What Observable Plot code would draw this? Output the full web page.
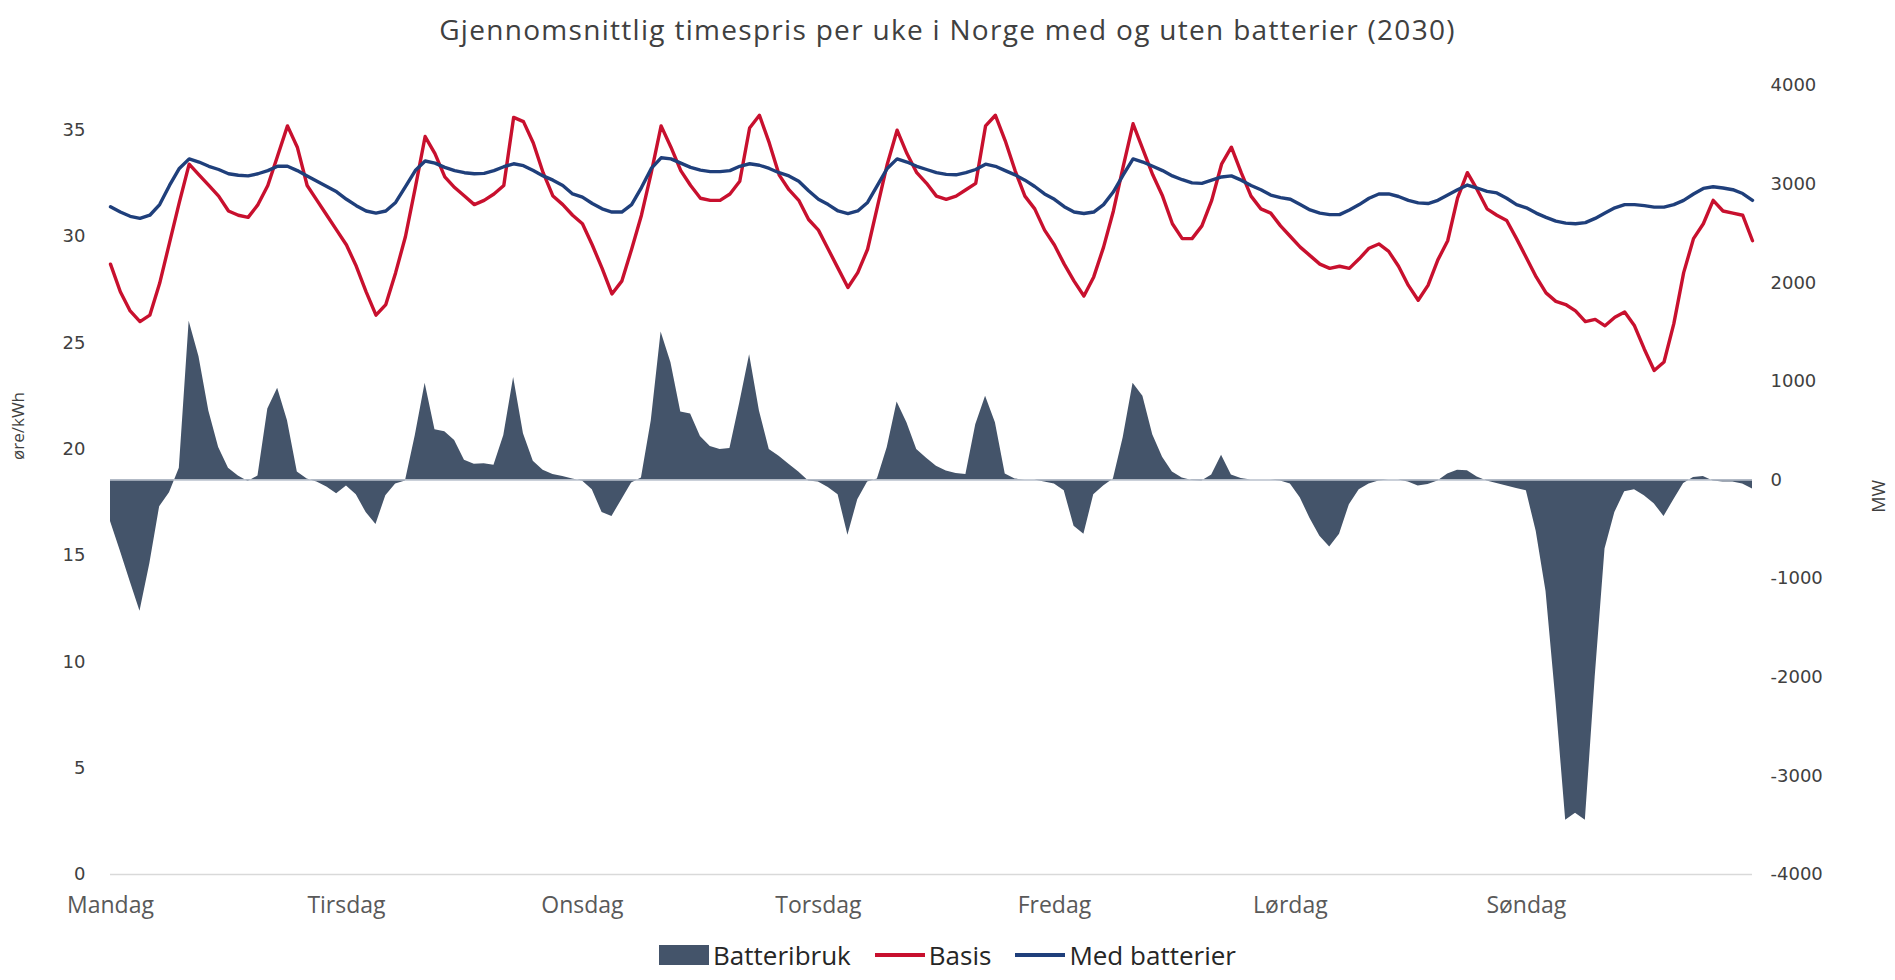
<!DOCTYPE html>
<html>
<head>
<meta charset="utf-8">
<script src="https://cdn.jsdelivr.net/npm/d3@7"></script>
<script src="https://cdn.jsdelivr.net/npm/@observablehq/plot@0.6"></script>
<style>
  body { margin: 0; background: #fff; }
  #wrap { position: relative; width: 1895px; height: 980px; overflow: hidden; font-family: "Open Sans", sans-serif; }
  #title { position: absolute; top: 10px; left: 0; width: 1895px; text-align: center; font-size: 28px; color: #404040; letter-spacing: 1.3px; }
  #chart { position: absolute; top: 0; left: 0; }
  #legend { position: absolute; top: 938px; left: 0; width: 1895px; display: flex; justify-content: center; align-items: center; font-size: 26px; line-height: 34px; color: #262626; }
  .item { display: flex; align-items: center; margin: 0 12px; }
  .sw { display: inline-block; margin-right: 4px; }
</style>
</head>
<body>
<div id="wrap">
  <div id="chart"></div>
  <div id="title">Gjennomsnittlig timespris per uke i Norge med og uten batterier (2030)</div>
  <div id="legend"></div>
</div>
<script>
// Day labels (one every 24 hours)
const days = ["Mandag", "Tirsdag", "Onsdag", "Torsdag", "Fredag", "Lørdag", "Søndag"];

// Basis price, øre/kWh (168 hours)
const basis = [
  28.7, 27.4, 26.5, 26.0, 26.3, 27.8, 29.7, 31.6, 33.4, 32.9, 32.4, 31.9, 31.2, 31.0, 30.9, 31.5, 32.4, 33.8, 35.2, 34.2, 32.4, 31.7, 31.0, 30.3,
  29.6, 28.6, 27.4, 26.3, 26.8, 28.3, 30.0, 32.3, 34.7, 33.9, 32.8, 32.3, 31.9, 31.5, 31.7, 32.0, 32.4, 35.6, 35.4, 34.4, 33.0, 31.9, 31.5, 31.0,
  30.6, 29.6, 28.5, 27.3, 27.9, 29.4, 31.0, 33.0, 35.2, 34.2, 33.1, 32.4, 31.8, 31.7, 31.7, 32.0, 32.6, 35.1, 35.7, 34.4, 32.9, 32.2, 31.7, 30.8,
  30.3, 29.4, 28.5, 27.6, 28.3, 29.4, 31.4, 33.4, 35.0, 33.9, 33.0, 32.5, 31.9, 31.75, 31.9, 32.2, 32.5, 35.2, 35.7, 34.5, 33.1, 31.9, 31.3, 30.3,
  29.6, 28.7, 27.9, 27.2, 28.1, 29.5, 31.2, 33.3, 35.3, 34.1, 32.9, 31.9, 30.6, 29.9, 29.9, 30.5, 31.7, 33.4, 34.2, 33.0, 31.9, 31.3, 31.1, 30.5,
  30.0, 29.5, 29.1, 28.7, 28.5, 28.6, 28.5, 28.95, 29.45, 29.65, 29.3, 28.6, 27.7, 27.0, 27.7, 28.9, 29.8, 31.8, 33.0, 32.2, 31.3, 31.0, 30.75, 29.9,
  29.0, 28.1, 27.35, 26.95, 26.8, 26.5, 26.0, 26.1, 25.8, 26.2, 26.45, 25.8, 24.7, 23.7, 24.1, 25.9, 28.3, 29.9, 30.6, 31.7, 31.2, 31.1, 31.0, 29.8
];

// Price with batteries, øre/kWh (168 hours)
const medBatterier = [
  31.4, 31.15, 30.95, 30.85, 31.0, 31.5, 32.4, 33.2, 33.65, 33.5, 33.3, 33.15, 32.95, 32.88, 32.85, 32.95, 33.1, 33.3, 33.3, 33.1, 32.85, 32.6, 32.35, 32.1,
  31.75, 31.45, 31.2, 31.1, 31.2, 31.6, 32.35, 33.1, 33.55, 33.45, 33.25, 33.1, 33.0, 32.95, 32.97, 33.1, 33.28, 33.42, 33.33, 33.1, 32.85, 32.65, 32.4, 32.0,
  31.85, 31.55, 31.3, 31.15, 31.15, 31.5, 32.3, 33.2, 33.7, 33.65, 33.45, 33.25, 33.12, 33.05, 33.05, 33.1, 33.3, 33.42, 33.35, 33.2, 33.0, 32.85, 32.6, 32.15,
  31.75, 31.5, 31.2, 31.08, 31.2, 31.6, 32.4, 33.2, 33.65, 33.5, 33.3, 33.15, 33.0, 32.92, 32.9, 33.0, 33.15, 33.4, 33.3, 33.1, 32.9, 32.65, 32.35, 32.0,
  31.75, 31.4, 31.15, 31.08, 31.15, 31.5, 32.1, 32.9, 33.65, 33.5, 33.3, 33.1, 32.85, 32.67, 32.52, 32.5, 32.65, 32.8, 32.85, 32.65, 32.4, 32.2, 31.95, 31.83,
  31.75, 31.5, 31.25, 31.1, 31.03, 31.03, 31.25, 31.5, 31.8, 32.0, 32.0, 31.88, 31.7, 31.58, 31.55, 31.7, 31.95, 32.2, 32.42, 32.28, 32.12, 32.05, 31.8, 31.5,
  31.35, 31.1, 30.9, 30.72, 30.63, 30.6, 30.65, 30.85, 31.1, 31.35, 31.5, 31.5, 31.45, 31.38, 31.38, 31.5, 31.7, 32.0, 32.26, 32.34, 32.28, 32.2, 32.02, 31.7
];

// Battery use, MW (168 hours)
const batteribruk = [
  -420, -720, -1030, -1330, -850, -270, -130, 120, 1610, 1250, 700, 330, 120, 40, -15, 40, 720, 930, 600, 80, 10, -20, -70, -140,
  -60, -150, -330, -450, -160, -40, -10, 450, 980, 510, 490, 400, 200, 160, 165, 150, 450, 1040, 470, 190, 100, 55, 35, 10,
  -10, -100, -330, -370, -200, -30, 20, 600, 1500, 1190, 690, 670, 440, 340, 310, 320, 780, 1270, 700, 310, 240, 160, 80, -10,
  -20, -75, -150, -560, -200, -20, 10, 330, 790, 580, 310, 220, 140, 90, 65, 55, 560, 850, 580, 60, 10, 0, 0, -20,
  -40, -110, -470, -550, -150, -60, 10, 430, 980, 850, 460, 230, 80, 20, -5, -10, 50, 250, 50, 15, 0, 0, 0, -10,
  -40, -180, -390, -570, -680, -550, -250, -100, -40, -10, 0, 0, -20, -60, -45, -10, 60, 100, 95, 30, -10, -35, -60, -85,
  -110, -520, -1130, -2230, -3450, -3380, -3450, -2000, -700, -330, -120, -100, -160, -240, -370, -200, -35, 25, 35, -10, -20, -20, -40, -90
];

// Axis ticks
const leftTicks = [0, 5, 10, 15, 20, 25, 30, 35];
const rightTicks = [-4000, -3000, -2000, -1000, 0, 1000, 2000, 3000, 4000];
const dayTicks = [0, 24, 48, 72, 96, 120, 144];

const colors = { bat: "#44546A", basis: "#C8102E", med: "#1F3F7B" };

const YMAX = 37.1; // left axis top, aligned with 4000 MW on right axis
const mwToY = d3.scaleLinear([-4000, 4000], [0, YMAX]);

const data = basis.map((b, i) => ({ h: i, basis: b, med: medBatterier[i], mw: batteribruk[i] }));

const chart = Plot.plot({
  width: 1895,
  height: 935,
  marginTop: 85,
  marginBottom: 61,
  marginLeft: 110,
  marginRight: 143,
  x: { domain: [0, 167], axis: null },
  y: { domain: [0, YMAX], axis: null },
  style: { background: "transparent", overflow: "visible" },
  marks: [
    Plot.ruleY([0], { stroke: "#d9d9d9", strokeWidth: 1.5 }),
    Plot.areaY(data, { x: "h", y1: () => mwToY(0), y2: d => mwToY(d.mw), fill: colors.bat }),
    Plot.ruleY([mwToY(0)], { stroke: "#b9c1cc", strokeWidth: 1.5 }),
    Plot.line(data, { x: "h", y: "basis", stroke: colors.basis, strokeWidth: 3.4, strokeLinejoin: "round" }),
    Plot.line(data, { x: "h", y: "med", stroke: colors.med, strokeWidth: 3.4, strokeLinejoin: "round" }),
    Plot.axisX({ ticks: dayTicks, tickFormat: d => days[d / 24], tickSize: 0, tickPadding: 22,
      fontSize: 23, fontFamily: "Open Sans", color: "#595959", label: null, style: { letterSpacing: "1px" } }),
    Plot.axisY({ anchor: "left", ticks: leftTicks, tickSize: 0, tickPadding: 25,
      fontSize: 18, fontFamily: "DejaVu Sans", color: "#404040", label: null, style: { letterSpacing: "1.5px" } }),
    Plot.axisY({ anchor: "right", ticks: rightTicks.map(v => mwToY(v)),
      tickFormat: y => String(Math.round(mwToY.invert(y))), tickSize: 0, tickPadding: 18,
      fontSize: 18, fontFamily: "DejaVu Sans", color: "#404040", label: null, style: { letterSpacing: "2.5px" } }),
    Plot.text(["øre/kWh"], { frameAnchor: "left", dx: -92, dy: -20, rotate: -90, fontSize: 17,
      fontFamily: "Open Sans", fill: "#404040" }),
    Plot.text(["MW"], { frameAnchor: "right", dx: 127, rotate: -90, fontSize: 18,
      fontFamily: "Open Sans", fill: "#404040" })
  ]
});
document.getElementById("chart").appendChild(chart);

// Legend
const legendItems = [
  { label: "Batteribruk", color: colors.bat, type: "box" },
  { label: "Basis", color: colors.basis, type: "line" },
  { label: "Med batterier", color: colors.med, type: "line" }
];
const legend = document.getElementById("legend");
for (const it of legendItems) {
  const item = document.createElement("div");
  item.className = "item";
  const sw = document.createElement("span");
  sw.className = "sw";
  sw.style.width = "50px";
  sw.style.height = it.type === "box" ? "20px" : "4px";
  sw.style.background = it.color;
  const t = document.createElement("span");
  t.textContent = it.label;
  item.appendChild(sw);
  item.appendChild(t);
  legend.appendChild(item);
}
</script>
</body>
</html>
